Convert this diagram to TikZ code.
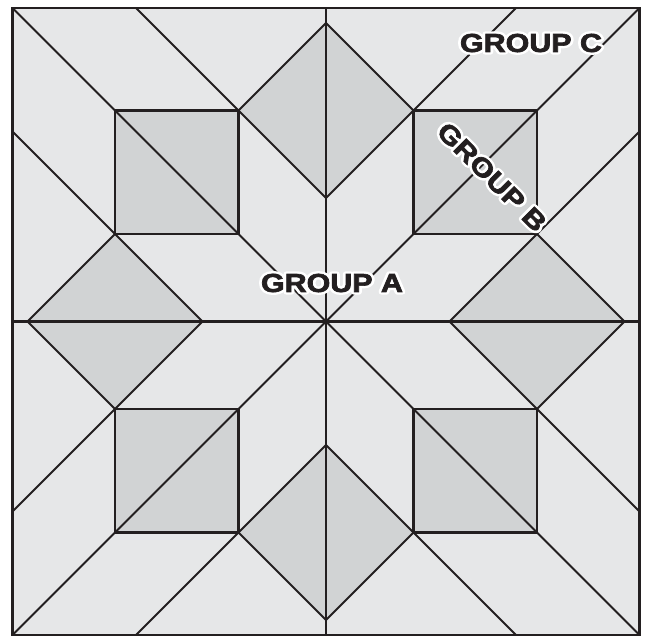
\documentclass[tikz,border=0pt]{standalone}
\usepackage{fontspec}
\newfontfamily\labfont{Liberation Sans Bold}[FakeBold=2.5]
\newfontfamily\halofont{Liberation Sans Bold}
\definecolor{ink}{HTML}{231F20}
\definecolor{lightgray}{HTML}{E6E7E8}
\definecolor{darkgray}{HTML}{D1D3D4}
\newcommand{\halo}[1]{\special{pdf:literal direct 1 Tr 5.5 w 1 j 1 1 1 RG}#1\special{pdf:literal direct 0 Tr}}
\tikzset{
  thinline/.style={draw=ink, line width=1.9pt, line cap=round, line join=round},
  boxline/.style={draw=ink, line width=2.4pt, line join=miter},
  midline/.style={draw=ink, line width=2.9pt},
  labtext/.style={font=\labfont\fontsize{26}{26}\selectfont, text=ink, inner sep=0pt},
  halotext/.style={font=\halofont\fontsize{26}{26}\selectfont, text=white, inner sep=0pt},
}
\begin{document}
\begin{tikzpicture}[x=1pt, y=-1pt]
  \useasboundingbox (0,0) rectangle (645,635);
  \fill[white] (0,0) rectangle (645,635);
  \def\B{313.5}
  \def\D{211}
  \def\C{87.5}
  \begin{scope}[shift={(326,321.5)}]
    \coordinate (ctr) at (0,0);
    \fill[lightgray] (-\B,-\B) rectangle (\B,\B);
    % dark patches: four squares and four diamonds
    \foreach \a in {0,90,180,270}{
      \begin{scope}[rotate=\a]
        \fill[darkgray] (-\D,-\D) rectangle (-\C,-\C);
        \fill[darkgray] (-\C,-\D) -- (0,-\D-\C) -- (\C,-\D) -- (0,-\D+\C) -- cycle;
      \end{scope}
    }
    % lines
    \foreach \a in {0,90,180,270}{
      \begin{scope}[rotate=\a]
        \coordinate (tl) at (-\B,-\B);
        \coordinate (inner) at (0,-\D+\C);
        \coordinate (outer) at (0,-\D-\C);
        \coordinate (sl) at (-\C,-\D);
        \coordinate (sr) at (\C,-\D);
        \coordinate (el) at (-190,-\B);
        \coordinate (er) at (190,-\B);
        \coordinate (top) at (0,-\B);
        \draw[thinline] (tl) -- (ctr);
        \draw[thinline] (el) -- (sl) -- (inner);
        \draw[thinline] (er) -- (sr) -- (inner);
        \draw[thinline] (sl) -- (outer) -- (sr);
        \draw[thinline] (top) -- (ctr);
        \draw[boxline] (-\D,-\D) rectangle (-\C,-\C);
      \end{scope}
    }
    \coordinate (left) at (-\B,0);
    \coordinate (right) at (\B,0);
    \draw[midline] (left) -- (right);
    \draw[draw=ink, line width=2.2pt] (-\B,-\B) rectangle (\B,\B);
  \end{scope}
  % white outlines first, then the black lettering on top
  \node[halotext] (gah) at (332,283) {\scalebox{1.17}[1]{\halo{GROUP A}}};
  \node[halotext, rotate=-45] (gbh) at (492,177) {\scalebox{1.17}[1]{\halo{GROUP B}}};
  \node[halotext] (gch) at (531,43) {\scalebox{1.17}[1]{\halo{GROUP C}}};
  \node[labtext] (ga) at (332,283) {\scalebox{1.17}[1]{GROUP A}};
  \node[labtext, rotate=-45] (gb) at (492,177) {\scalebox{1.17}[1]{GROUP B}};
  \node[labtext] (gc) at (531,43) {\scalebox{1.17}[1]{GROUP C}};
\end{tikzpicture}
\end{document}
